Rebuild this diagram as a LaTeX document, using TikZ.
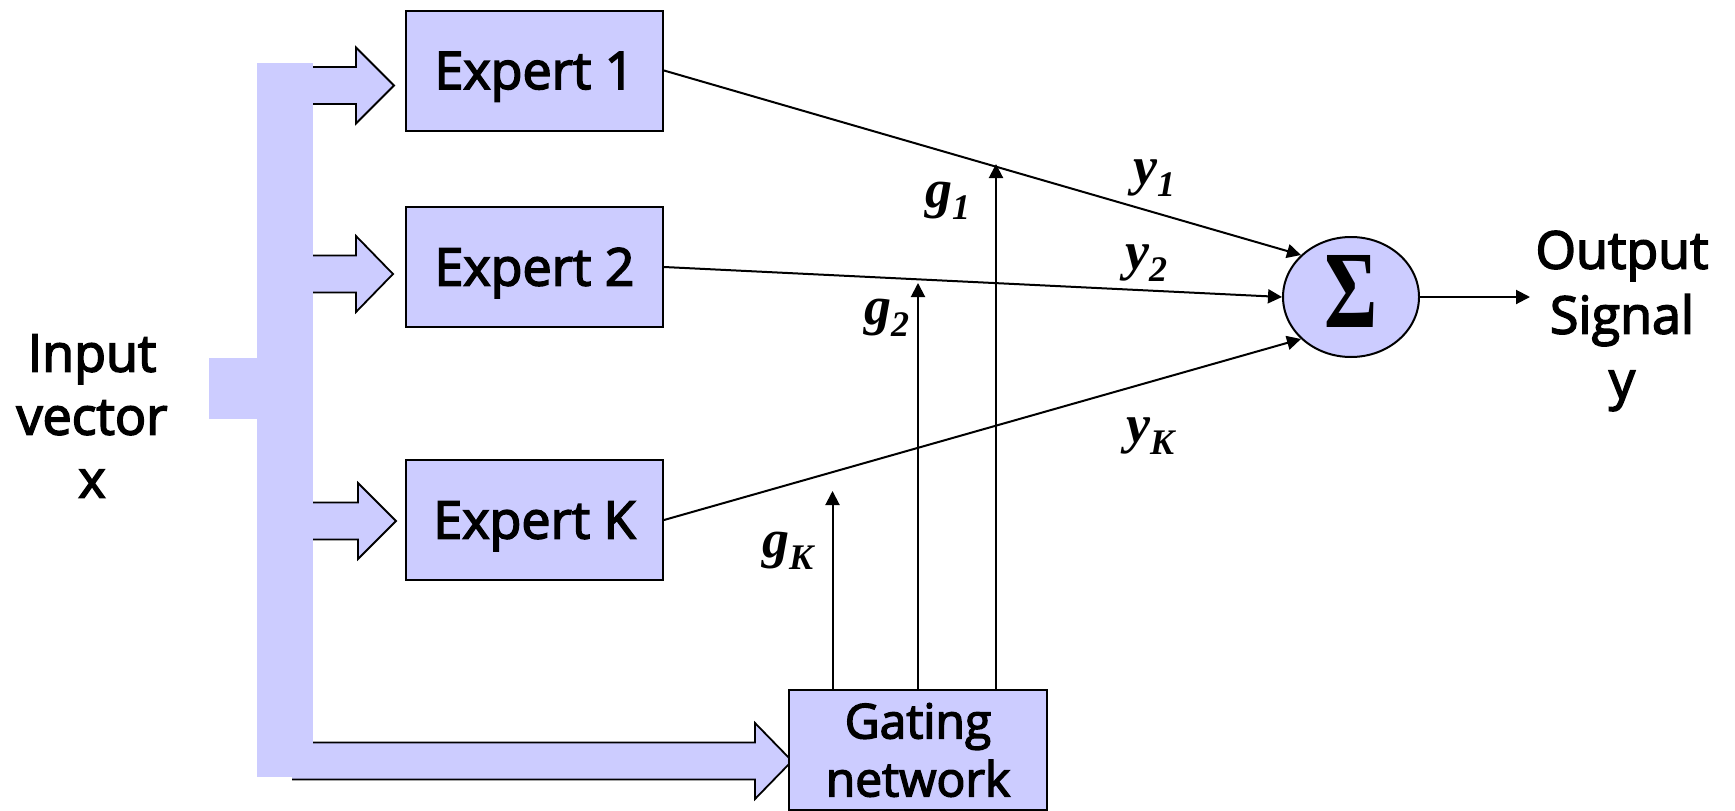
\documentclass[tikz,border=0pt]{standalone}
\usepackage{fontspec}
\setmainfont{Open Sans}
\newfontface\semib{Open Sans}[FakeBold=3]
\newfontfamily\tnr{Liberation Serif}
\usetikzlibrary{arrows.meta,shapes.geometric}
\definecolor{lav}{HTML}{CCCCFF}
\tikzset{
  box/.style={draw=black, line width=2pt, fill=lav, minimum width=257pt, minimum height=120pt,
    inner sep=0pt, font=\semib\fontsize{52}{60}\selectfont, text height=37pt, text depth=0pt},
  gatebox/.style={draw=black, line width=2pt, fill=lav, minimum width=258pt, minimum height=120pt,
    inner sep=0pt, align=center, font=\semib\fontsize{48}{58}\selectfont},
  conn/.style={line width=2pt, -{Triangle[length=14pt,width=14pt]}},
  fatline/.style={draw=black, line width=1.8pt, line join=miter},
  lbl/.style={anchor=base west, inner sep=0pt, font=\tnr\fontsize{54}{54}\selectfont\bfseries\itshape},
  txt/.style={align=center, inner sep=0pt}
}
\newcommand{\lsub}[1]{\raisebox{-12pt}{\fontsize{36}{36}\selectfont #1}}
\newcommand{\fatarr}[4]{%
  \fill[lav] (#1,#4-18.5) -- (#2,#4-18.5) -- (#2,#4-38) -- (#3,#4) -- (#2,#4+38) -- (#2,#4+18.5) -- (#1,#4+18.5) -- cycle;
  \draw[fatline] (#1,#4-18.5) -- (#2,#4-18.5) -- (#2,#4-38) -- (#3,#4) -- (#2,#4+38) -- (#2,#4+18.5) -- (#1,#4+18.5);
}
\begin{document}
\begin{tikzpicture}[x=1pt,y=-1pt]
\useasboundingbox (0,0) rectangle (1735,811);
% fat arrow to gating network
\fatarr{292}{755}{792}{761}
% input bar
\fill[lav] (257,63) rectangle (313,777);
\fill[lav] (209,358) rectangle (257,419);
% fat arrows to experts
\fatarr{313}{356}{394}{85.5}
\fatarr{313}{356}{393}{274}
\fatarr{313}{358}{396}{521}
% boxes
\node[box] (e1) at (534.5,70.5) {Expert 1};
\node[box] (e2) at (534.5,267) {Expert 2};
\node[box] (eK) at (534.5,520) {Expert K};
\node[gatebox] (gate) at (918,750) {Gating\\network};
\node[ellipse, draw=black, line width=2pt, fill=lav, minimum width=136pt, minimum height=120pt,
  inner sep=0pt, text height=60pt, text depth=0pt, font=\tnr\bfseries\fontsize{110}{110}\selectfont]
  (sigma) at (1351,297) {\scalebox{0.74}[1]{Σ}};
% texts
\node[txt, font=\semib\fontsize{52}{63}\selectfont] (inp) at (92,416) {Input\\vector\\x};
\node[txt, font=\semib\fontsize{52}{65}\selectfont] (outp) at (1622,321) {Output\\Signal\\y};
\coordinate (otip) at (1530,297);
% expert outputs
\draw[conn] (e1.east) -- (sigma.140);
\draw[conn] (e2.east) -- (sigma.west);
\draw[conn] (eK.east) -- (sigma.220);
\draw[conn] (sigma.east) -- (otip);
% gating outputs
\coordinate (tK) at (832.5,491);
\coordinate (t2) at (918,283);
\coordinate (t1) at (996,164);
\draw[conn] (gate.north -| tK) -- (tK);
\draw[conn] (gate.north -| t2) -- (t2);
\draw[conn] (gate.north -| t1) -- (t1);
% labels
\node[lbl] (lg1) at (925,207) {g\lsub{1}};
\node[lbl] (lg2) at (864,324) {g\lsub{2}};
\node[lbl] (lgK) at (762,557) {g\lsub{K}};
\node[lbl] (ly1) at (1133,184) {y\lsub{1}};
\node[lbl] (ly2) at (1125,269) {y\lsub{2}};
\node[lbl] (lyK) at (1126,442) {y\lsub{K}};
\end{tikzpicture}
\end{document}
